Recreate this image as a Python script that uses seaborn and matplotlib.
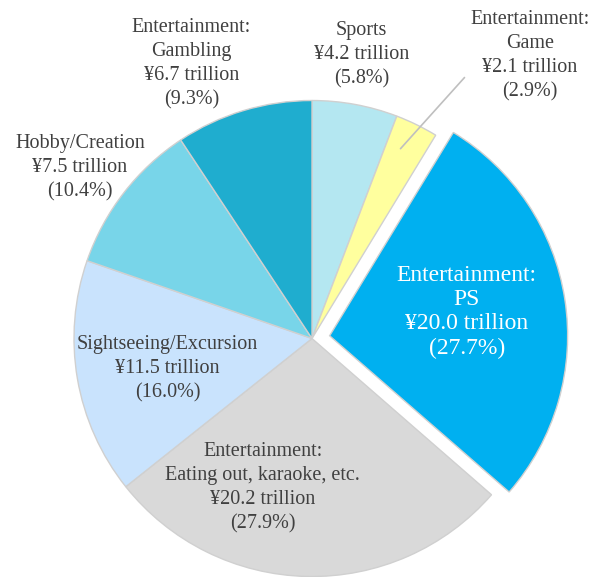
import numpy as np
import matplotlib.pyplot as plt
import seaborn as sns

sns.set_theme(style="white")
plt.rcParams["font.family"] = ["Liberation Serif", "DejaVu Serif"]

# データ
names = ["Sports", "Entertainment:\nGame", "Entertainment:\nPS",
         "Entertainment:\nEating out, karaoke, etc.", "Sightseeing/Excursion",
         "Hobby/Creation", "Entertainment:\nGambling"]
trillion = [4.2, 2.1, 20.0, 20.2, 11.5, 7.5, 6.7]
share = [5.8, 2.9, 27.7, 27.9, 16.0, 10.4, 9.3]

colors = ["#B4E7F1", "#FFFF9E", "#00B0F0", "#D9D9D9", "#C9E3FD", "#78D5E9", "#1FADCF"]
explode = [0, 0, 0.075, 0, 0, 0, 0]

# posición de etiquetas: distancia radial y ajuste de ángulo
label_r = [1.21, 1.50, 0.66, 0.66, 0.62, 1.21, 1.26]
label_dang = [0.5, -11.5, 1, -17, 2, 1.5, 7]
label_size = [14.5, 14.5, 17, 14.5, 14.5, 14.5, 14.5]
label_color = ["#404040", "#404040", "white", "#404040", "#404040", "#404040", "#404040"]
label_space = [1.35, 1.35, 1.2, 1.35, 1.35, 1.35, 1.35]

fig = plt.figure(figsize=(5.94, 5.77), dpi=100)
ax = fig.add_axes([0, 0, 1, 1])

wedges, _ = ax.pie(share, colors=colors, explode=explode, startangle=90,
                   counterclock=False, radius=1,
                   wedgeprops=dict(edgecolor="#D0D0D0", linewidth=1))

for i, w in enumerate(wedges):
    mid = np.deg2rad((w.theta1 + w.theta2) / 2 + label_dang[i])
    r = label_r[i]
    x, y = r * np.cos(mid), r * np.sin(mid)
    txt = f"{names[i]}\n¥{trillion[i]:.1f} trillion\n({share[i]:.1f}%)"
    ax.text(x, y, txt, ha="center", va="center", fontsize=label_size[i],
            color=label_color[i], linespacing=label_space[i])

# línea guía para Game
a0 = np.deg2rad(65)
a1 = np.deg2rad(59.7)
ax.plot([0.88 * np.cos(a0), 1.27 * np.cos(a1)],
        [0.88 * np.sin(a0), 1.27 * np.sin(a1)], color="#BFBFBF", lw=1.2)

ax.set_xlim(-312 / 238, (594 - 312) / 238)
ax.set_ylim(-(577 - 338.5) / 238, 338.5 / 238)
ax.set_aspect("equal")
ax.axis("off")

fig.savefig("out.png", dpi=100)
